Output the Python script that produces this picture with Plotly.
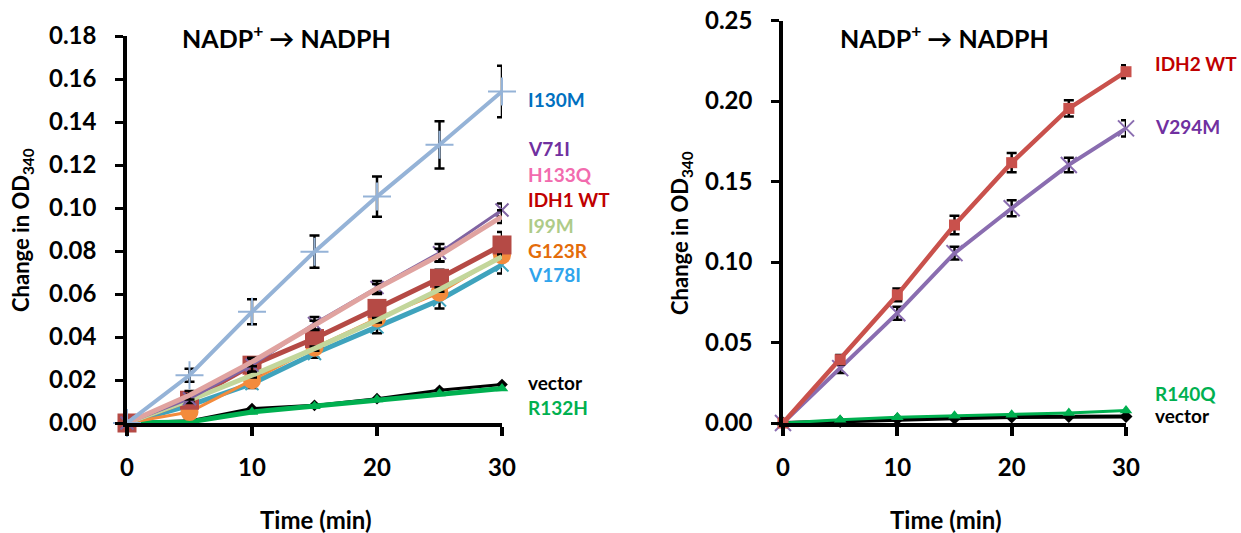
import plotly.graph_objects as go

# ---------------- data ----------------
time = [0, 5, 10, 15, 20, 25, 30]

# Left panel (IDH1 variants)
i130m = [0, 0.0222, 0.0517, 0.0797, 0.1053, 0.1294, 0.1542]
i130m_err = [0, 0.003, 0.0058, 0.0075, 0.0094, 0.011, 0.012]
v71i = [0, 0.0113, 0.0269, 0.0463, 0.063, 0.0792, 0.0991]
v71i_err = [0, 0.002, 0.003, 0.003, 0.003, 0.004, 0.003]
h133q = [0, 0.0129, 0.0284, 0.0455, 0.0626, 0.078, 0.096]
h133q_err = [0, 0.002, 0.002, 0.002, 0.002, 0.003, 0.003]
idh1_wt = [0, 0.0106, 0.0269, 0.0393, 0.0533, 0.0673, 0.0828]
idh1_wt_err = [0, 0.002, 0.002, 0.003, 0.003, 0.004, 0.006]
i99m = [0, 0.0106, 0.0222, 0.0346, 0.0478, 0.0621, 0.0774]
i99m_err = [0, 0.001, 0.001, 0.001, 0.001, 0.001, 0.001]
g123r = [0, 0.0051, 0.0199, 0.035, 0.0486, 0.0606, 0.078]
g123r_err = [0, 0.001, 0.001, 0.001, 0.001, 0.001, 0.001]
v178i = [0, 0.0082, 0.0183, 0.0323, 0.0447, 0.0572, 0.0735]
v178i_err = [0, 0.001, 0.002, 0.002, 0.003, 0.004, 0.004]
vector1 = [0, 0.001, 0.0067, 0.0082, 0.0113, 0.0152, 0.0179]
r132h = [0, 0.0005, 0.0051, 0.0078, 0.0109, 0.0137, 0.016]

# Right panel (IDH2 variants)
idh2_wt = [0, 0.0393, 0.0796, 0.123, 0.1617, 0.1954, 0.2182]
idh2_wt_err = [0, 0.003, 0.004, 0.0057, 0.006, 0.005, 0.004]
v294m = [0, 0.0341, 0.0682, 0.1055, 0.1334, 0.1603, 0.183]
v294m_err = [0, 0.003, 0.004, 0.004, 0.005, 0.0045, 0.005]
r140q = [0, 0.002, 0.0035, 0.0045, 0.0052, 0.0062, 0.0077]
vector2 = [0, 0.001, 0.0025, 0.003, 0.0037, 0.004, 0.004]

left_yticks = [0, 0.02, 0.04, 0.06, 0.08, 0.10, 0.12, 0.14, 0.16, 0.18]
right_yticks = [0, 0.05, 0.10, 0.15, 0.20, 0.25]
xticks = [0, 10, 20, 30]

FONT = "Lato"

fig = go.Figure()


def add(name, y, color, width, marker_symbol=None, msize=10, mcolor=None,
        err=None, xa="x", ya="y", mline=0):
    kw = {}
    if err is not None:
        kw["error_y"] = dict(type="data", array=err, visible=True,
                             color="black", thickness=2.5, width=5)
    mode = "lines+markers" if marker_symbol else "lines"
    fig.add_trace(go.Scatter(
        x=time, y=y, name=name, mode=mode, xaxis=xa, yaxis=ya,
        line=dict(color=color, width=width),
        marker=dict(symbol=marker_symbol or "circle", size=msize,
                    color=mcolor or color,
                    line=dict(color=mcolor or color, width=mline)),
        cliponaxis=False, showlegend=False, **kw))


# left panel traces
add("vector", vector1, "black", 3, "diamond", 9)
add("R132H", r132h, "#00B050", 5, "triangle-up", 11)
add("V178I", v178i, "#3FA3BD", 5, "x-thin", 13, err=v178i_err, mline=2)
add("G123R", g123r, "#F38B3C", 3, "circle", 18, err=g123r_err)
add("IDH1 WT", idh1_wt, "#B54A45", 5, "square", 19, err=idh1_wt_err)
add("I99M", i99m, "#C3D69B", 5, err=i99m_err)
add("V71I", v71i, "#8064A2", 3, "x-thin", 13, err=v71i_err, mline=2)
add("H133Q", h133q, "#E0A3A0", 5, err=h133q_err)
add("I130M", i130m, "#95B3D7", 4, "cross-thin", 20, err=i130m_err, mline=2)

# right panel traces
add("vector", vector2, "black", 4, "diamond", 10, xa="x2", ya="y2")
add("R140Q", r140q, "#00B050", 3, "triangle-up", 11, xa="x2", ya="y2")
add("V294M", v294m, "#8A6DB0", 4, "x-thin", 16, err=v294m_err,
    xa="x2", ya="y2", mline=2)
add("IDH2 WT", idh2_wt, "#C9514C", 4.5, "square", 11, err=idh2_wt_err,
    xa="x2", ya="y2")

tickfont = dict(family=FONT, size=24, color="black", weight="bold")

xaxis_common = dict(range=[0, 30], tickvals=xticks, ticks="outside",
                    ticklen=9, tickwidth=3.5, tickcolor="black",
                    showline=True, linecolor="black", linewidth=4,
                    showgrid=False, zeroline=False, tickfont=tickfont,
                    ticklabelstandoff=11, fixedrange=True, automargin=False)
yaxis_common = dict(ticks="outside", ticklen=8, tickwidth=3,
                    tickcolor="black", showline=True, linecolor="black",
                    linewidth=3.5, showgrid=False, zeroline=False,
                    tickfont=tickfont, ticklabelstandoff=14, fixedrange=True,
                    automargin=False, ticklabeloverflow="allow")

W, H = 1241, 533


def px(x):
    return x / W


def py(y):
    return 1 - y / H


fig.update_layout(
    width=W, height=H,
    margin=dict(l=0, r=0, t=0, b=0, autoexpand=False),
    paper_bgcolor="white", plot_bgcolor="white",
    xaxis=dict(domain=[px(127), px(502)], anchor="y", **xaxis_common),
    yaxis=dict(domain=[py(423), py(36)], anchor="x", range=[0, 0.18],
               tickvals=left_yticks, tickformat=".2f", **yaxis_common),
    xaxis2=dict(domain=[px(783), px(1126)], anchor="y2", **xaxis_common),
    yaxis2=dict(domain=[py(423), py(20.5)], anchor="x2", range=[0, 0.25],
                tickvals=right_yticks, tickformat=".2f", **yaxis_common),
)

ann = []
labfont = dict(family=FONT, size=19, weight="bold")
left_labels = [("I130M", "#0070C0", 99), ("V71I", "#7030A0", 148),
               ("H133Q", "#F26BAE", 174), ("IDH1 WT", "#C00000", 200),
               ("I99M", "#AECB88", 225), ("G123R", "#E46C0A", 250),
               ("V178I", "#2FA4EC", 274), ("vector", "black", 383),
               ("R132H", "#00B050", 407)]
for t, c, y in left_labels:
    ann.append(dict(text=t, x=px(526), y=py(y), xref="paper", yref="paper",
                    xanchor="left", yanchor="middle", showarrow=False,
                    font=dict(color=c, **labfont)))
right_labels = [("IDH2 WT", "#C00000", 63), ("V294M", "#7030A0", 126),
                ("R140Q", "#00B050", 393), ("vector", "black", 415)]
for t, c, y in right_labels:
    ann.append(dict(text=t, x=px(1153), y=py(y), xref="paper", yref="paper",
                    xanchor="left", yanchor="middle", showarrow=False,
                    font=dict(color=c, **labfont)))

titlefont = dict(family=FONT, size=25, color="black", weight="bold")
for cx in (286, 944):
    ann.append(dict(text="NADP<sup>+</sup> → NADPH", x=px(cx), y=py(36),
                    xref="paper", yref="paper", xanchor="center",
                    yanchor="middle", showarrow=False, font=titlefont))

axfont = dict(family=FONT, size=24, color="black", weight="bold")
for cx in (316, 946):
    ann.append(dict(text="Time (min)", x=px(cx), y=py(519), xref="paper",
                    yref="paper", xanchor="center", yanchor="middle",
                    showarrow=False, font=axfont))
for cx, cy in ((22, 230), (681, 233)):
    ann.append(dict(text="Change in OD<sub>340</sub>", x=px(cx), y=py(cy),
                    xref="paper", yref="paper", xanchor="center",
                    yanchor="middle", textangle=-90, showarrow=False,
                    font=dict(family=FONT, size=22, color="black",
                              weight="bold")))

fig.update_layout(annotations=ann)
fig.write_html(
    "out.html",
    config={"displayModeBar": False},
    post_script="document.body.style.margin='0';"
                "document.body.style.overflow='hidden';",
)
